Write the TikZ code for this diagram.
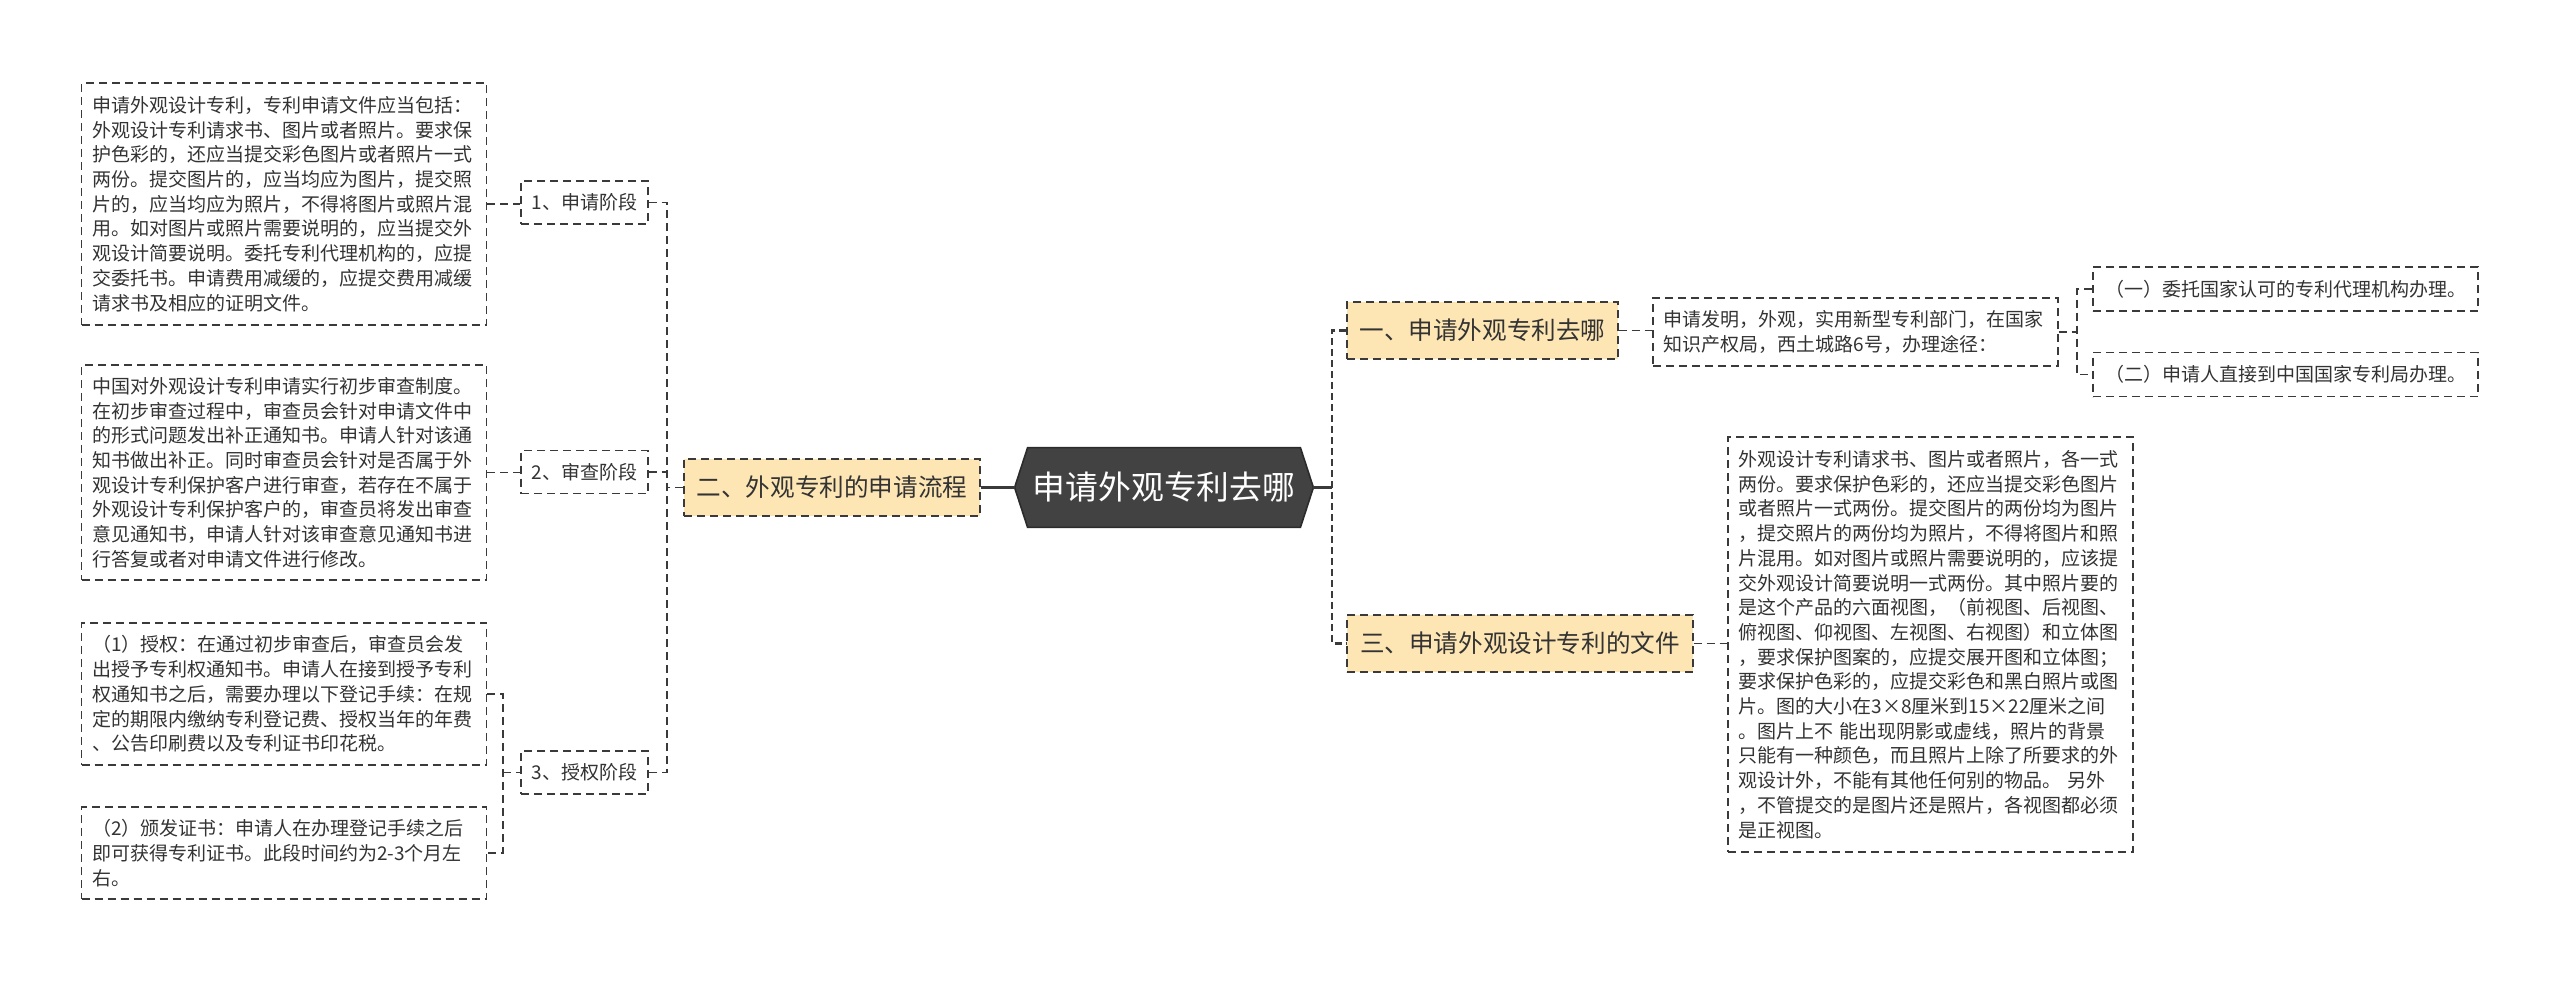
\documentclass[tikz,border=0pt]{standalone}
\usepackage{fontspec}
\setmainfont{Noto Sans CJK SC}
\usetikzlibrary{backgrounds}
\definecolor{txt}{HTML}{333333}
\definecolor{ln}{HTML}{3A3A3A}
\definecolor{yel}{HTML}{FDE6B4}
\definecolor{hexc}{HTML}{424242}
\definecolor{hexb}{HTML}{2B2B2B}
\tikzset{
  small/.style={font=\fontsize{9.5pt}{12.35pt}\selectfont, text=txt},
  detail/.style={small, draw=ln, dash pattern=on 4pt off 2.5pt, line width=0.6pt,
    align=left, text width=192pt, inner xsep=5.25pt, inner ysep=0pt, anchor=center},
  stagebox/.style={small, draw=ln, dash pattern=on 4pt off 2.5pt, line width=0.6pt,
    minimum width=63.5pt, minimum height=21.5pt, inner sep=0pt, anchor=center},
  leafbox/.style={small, draw=ln, dash pattern=on 4pt off 2.5pt, line width=0.6pt,
    minimum width=192.5pt, minimum height=22pt, inner sep=0pt, anchor=center},
  topic/.style={font=\fontsize{12.3pt}{15pt}\selectfont, text=txt, fill=yel, draw=ln,
    dash pattern=on 4pt off 2.5pt, line width=0.7pt, minimum height=28.5pt, inner sep=0pt, anchor=center},
  thinc/.style={draw=ln, dash pattern=on 4pt off 2.5pt, line width=0.6pt},
  thickc/.style={draw=ln, dash pattern=on 3.5pt off 2pt, line width=1.25pt},
  solidc/.style={draw=ln, line width=1.25pt},
}
\begin{document}
\begin{tikzpicture}[x=0.5pt, y=-0.5pt]
\useasboundingbox (0,0) rectangle (2560,982);

% root
\node[minimum width=149pt, minimum height=39.5pt, inner sep=0pt, text=white,
  font=\fontsize{16.4pt}{20pt}\selectfont] (root) at (1164,487.5) {申请外观专利去哪};
\begin{scope}[on background layer]
\filldraw[fill=hexc, draw=hexb, line width=0.8pt]
  ([xshift=6.5pt]root.north west) -- ([xshift=-6.5pt]root.north east) -- (root.east)
  -- ([xshift=-6.5pt]root.south east) -- ([xshift=6.5pt]root.south west) -- (root.west) -- cycle;
\end{scope}

% left branch
\node[topic, minimum width=148pt] (er) at (832,487.5) {二、外观专利的申请流程};
\node[stagebox] (s1) at (584.5,202.5) {1、申请阶段};
\node[stagebox] (s2) at (584.5,472) {2、审查阶段};
\node[stagebox] (s3) at (584.5,772.5) {3、授权阶段};

\node[detail, minimum height=121pt] (b1) at (284,204) {申请外观设计专利，专利申请文件应当包括：\\外观设计专利请求书、图片或者照片。要求保\\护色彩的，还应当提交彩色图片或者照片一式\\两份。提交图片的，应当均应为图片，提交照\\片的，应当均应为照片，不得将图片或照片混\\用。如对图片或照片需要说明的，应当提交外\\观设计简要说明。委托专利代理机构的，应提\\交委托书。申请费用减缓的，应提交费用减缓\\请求书及相应的证明文件。};
\node[detail, minimum height=107.5pt] (b2) at (284,472.5) {中国对外观设计专利申请实行初步审查制度。\\在初步审查过程中，审查员会针对申请文件中\\的形式问题发出补正通知书。申请人针对该通\\知书做出补正。同时审查员会针对是否属于外\\观设计专利保护客户进行审查，若存在不属于\\外观设计专利保护客户的，审查员将发出审查\\意见通知书，申请人针对该审查意见通知书进\\行答复或者对申请文件进行修改。};
\node[detail, minimum height=71pt] (b3) at (284,694) {（1）授权：在通过初步审查后，审查员会发\\出授予专利权通知书。申请人在接到授予专利\\权通知书之后，需要办理以下登记手续：在规\\定的期限内缴纳专利登记费、授权当年的年费\\、公告印刷费以及专利证书印花税。};
\node[detail, minimum height=46pt] (b4) at (284,853) {（2）颁发证书：申请人在办理登记手续之后\\即可获得专利证书。此段时间约为2-3个月左\\右。};

\coordinate (lt) at (667,487.5);
\coordinate (br3) at (503,772.5);
\draw[solidc] (er.east) -- (root.west);
\draw[thinc] (er.west) -- (lt);
\draw[thinc] (s1.east) -- (s1.east -| lt) -- (s3.east -| lt) -- (s3.east);
\draw[thinc] (s2.east) -- (s2.east -| lt);
\draw[thinc] (b1.east) -- (b1.east -| s1.west);
\draw[thinc] (b2.east) -- (b2.east -| s2.west);
\draw[thinc] (b3.east) -- (b3.east -| br3) -- (b4.east -| br3) -- (b4.east);
\draw[thinc] (br3) -- (s3.west);

% right branch
\node[topic, minimum width=135.5pt] (yi) at (1482.5,330.5) {一、申请外观专利去哪};
\node[topic, minimum width=173pt] (san) at (1520,643.5) {三、申请外观设计专利的文件};
\node[detail, minimum height=34pt] (d1) at (1855.5,332) {申请发明，外观，实用新型专利部门，在国家\\知识产权局，西土城路6号，办理途径：};
\node[leafbox] (c1) at (2285.5,289) {（一）委托国家认可的专利代理机构办理。};
\node[leafbox] (c2) at (2285.5,374.5) {（二）申请人直接到中国国家专利局办理。};
\node[detail, minimum height=207.5pt] (d3) at (1930.5,644.5) {外观设计专利请求书、图片或者照片，各一式\\两份。要求保护色彩的，还应当提交彩色图片\\或者照片一式两份。提交图片的两份均为图片\\，提交照片的两份均为照片，不得将图片和照\\片混用。如对图片或照片需要说明的，应该提\\交外观设计简要说明一式两份。其中照片要的\\是这个产品的六面视图，（前视图、后视图、\\俯视图、仰视图、左视图、右视图）和立体图\\，要求保护图案的，应提交展开图和立体图；\\要求保护色彩的，应提交彩色和黑白照片或图\\片。图的大小在3×8厘米到15×22厘米之间\\。图片上不~能出现阴影或虚线，照片的背景\\只能有一种颜色，而且照片上除了所要求的外\\观设计外，不能有其他任何别的物品。~另外\\，不管提交的是图片还是照片，各视图都必须\\是正视图。};

\coordinate (rt) at (1332,487.5);
\coordinate (rb) at (2077,332);
\draw[solidc] (root.east) -- (rt);
\draw[thickc] (yi.west) -- (yi.west -| rt) -- (san.west -| rt) -- (san.west);
\draw[thinc] (yi.east) -- (yi.east -| d1.west);
\draw[thinc] (san.east) -- (san.east -| d3.west);
\draw[thinc] (d1.east) -- (rb);
\draw[thinc] (c1.west) -- (c1.west -| rb) -- (c2.west -| rb) -- (c2.west);
\end{tikzpicture}
\end{document}
